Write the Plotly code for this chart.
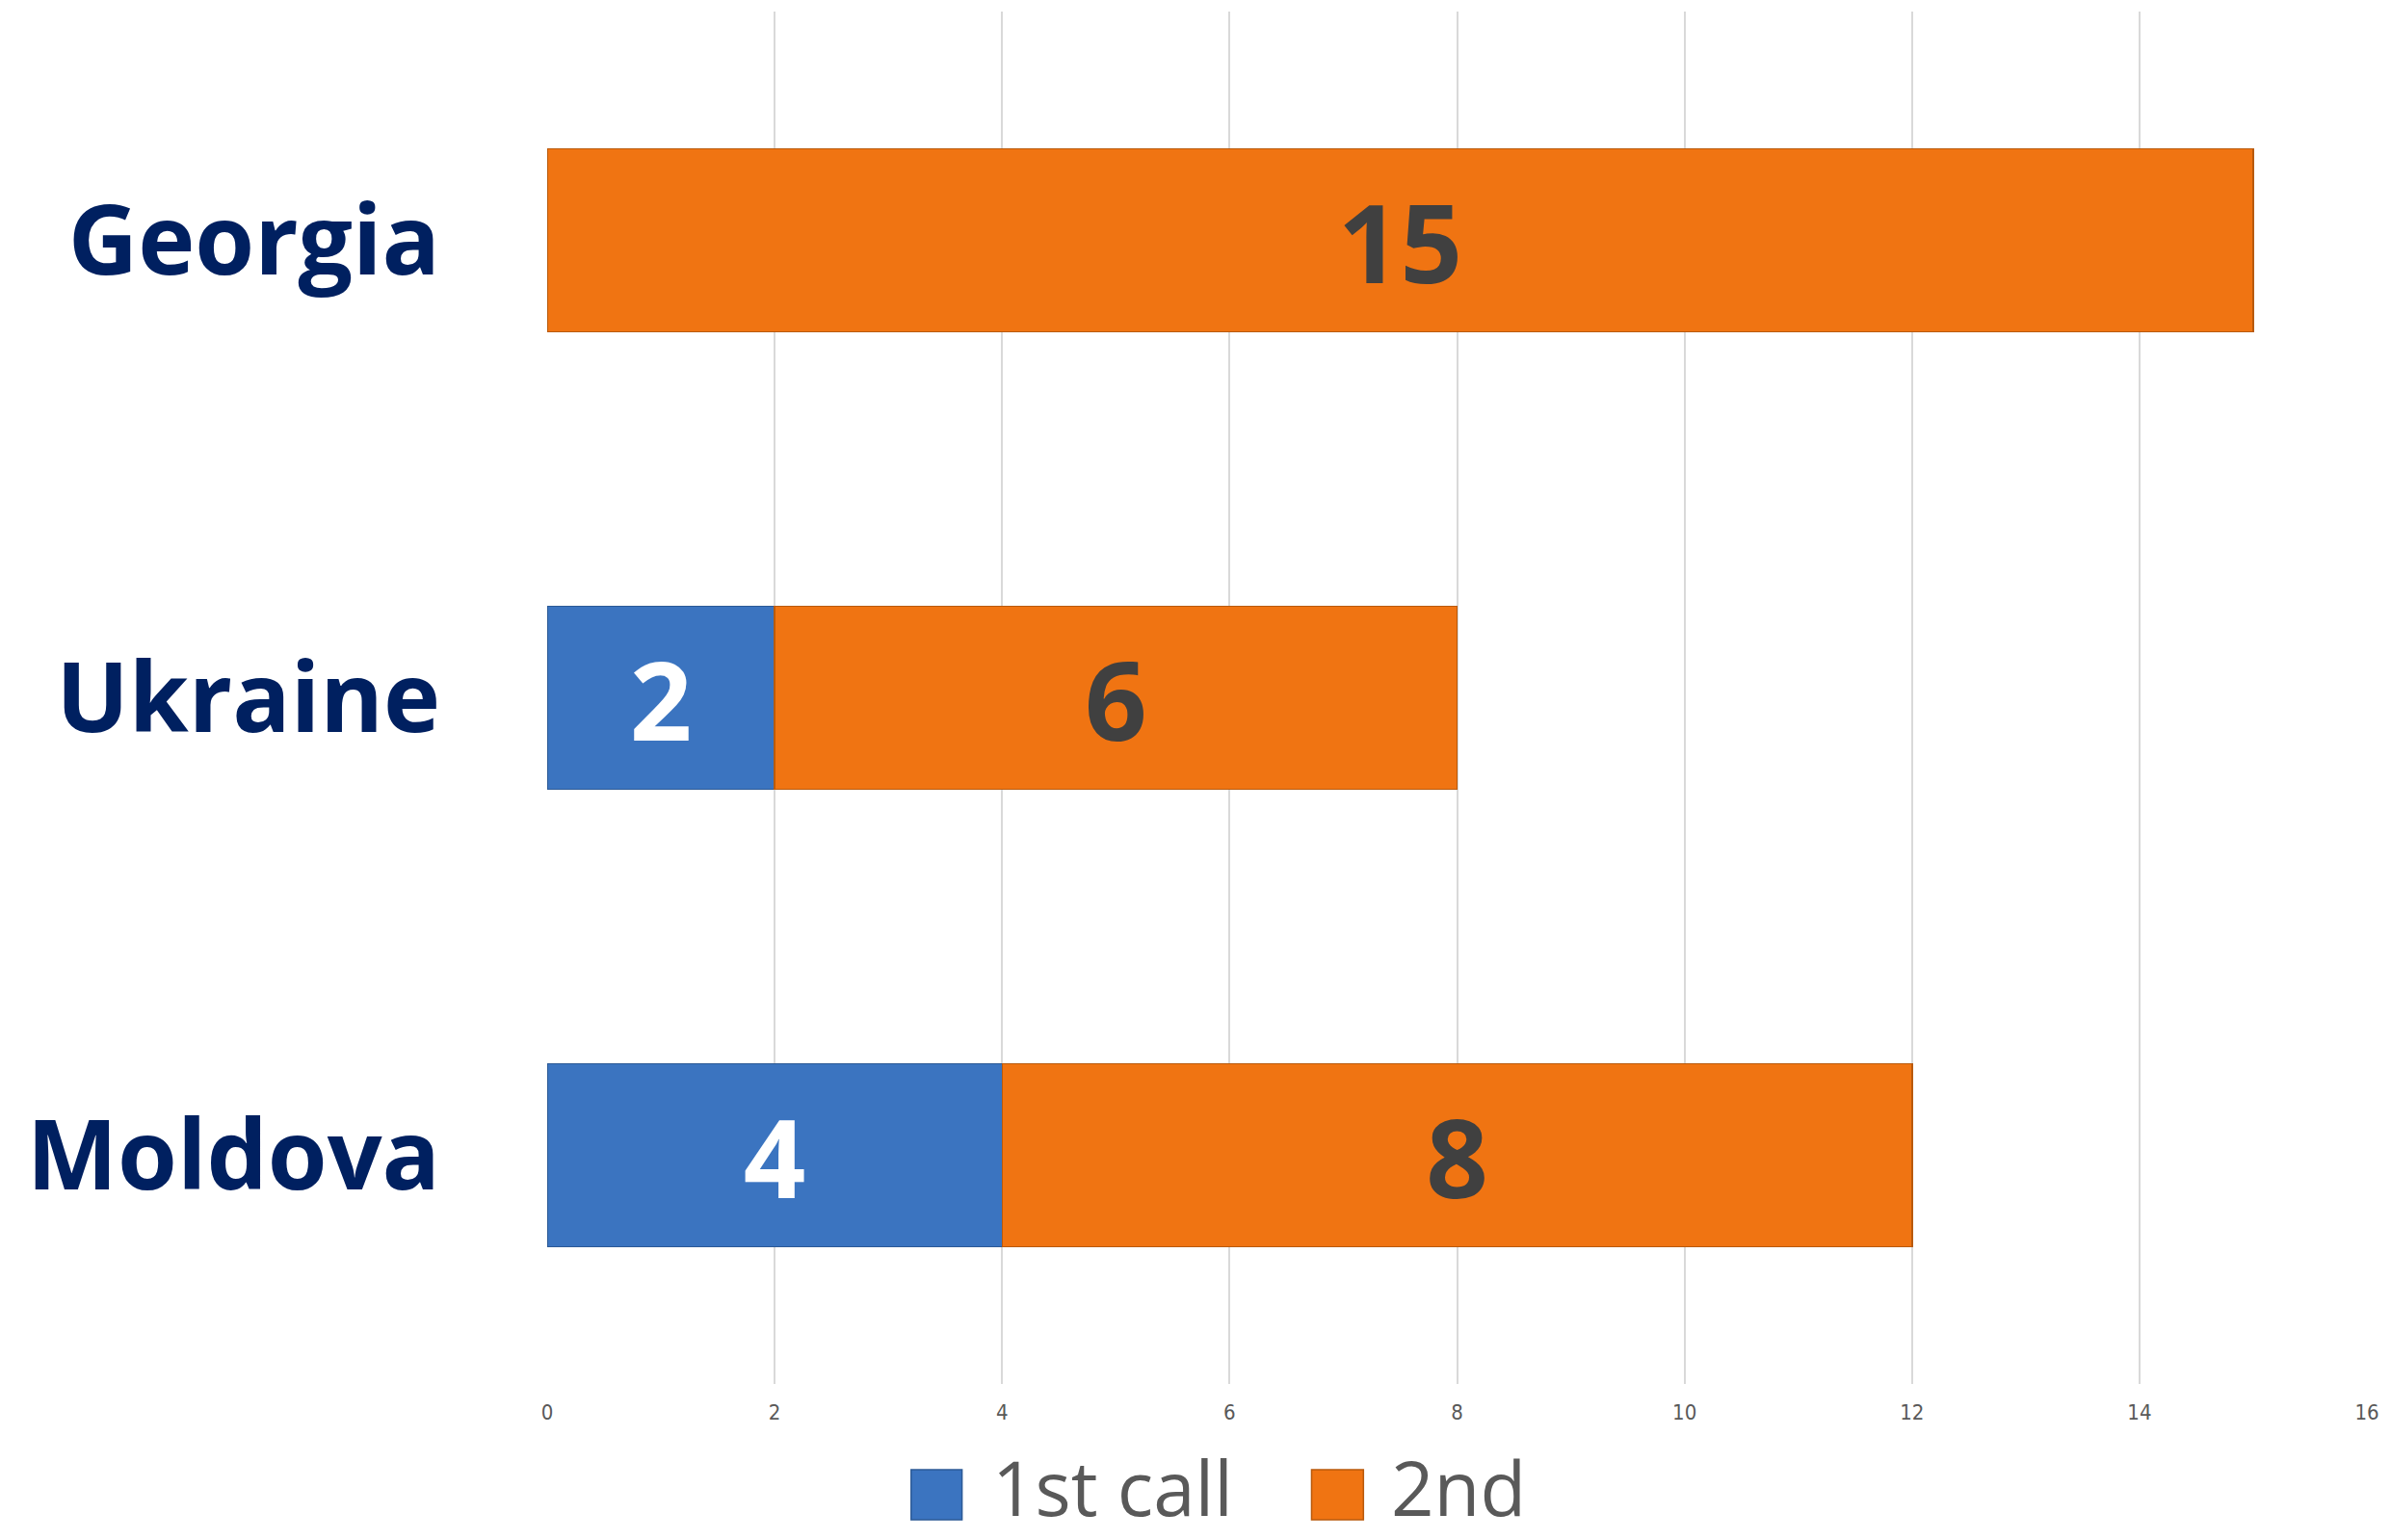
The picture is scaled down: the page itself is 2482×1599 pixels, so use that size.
import plotly.graph_objects as go

categories = ["Georgia", "Ukraine", "Moldova"]
first_call = [None, 2, 4]
second = [15, 6, 8]
series_names = ["1st call", "2nd"]
x_ticks = [0, 2, 4, 6, 8, 10, 12, 14, 16]

W, H = 2482, 1599
L, R, T, B = 568, 19, 12, 162
plot_w = W - L - R
plot_h = H - T - B

BLUE = "#3B74C0"
BLUE_EDGE = "#2C5A96"
ORANGE = "#F07412"
ORANGE_EDGE = "#B95A0C"

fig = go.Figure()
fig.add_trace(go.Bar(
    y=categories, x=first_call, orientation="h", name=series_names[0],
    marker=dict(color=BLUE, line=dict(color=BLUE_EDGE, width=1.5)),
    text=[("" if v is None else str(v)) for v in first_call],
    textposition="inside", insidetextanchor="middle", constraintext="none",
    textfont=dict(family="Open Sans", size=113, color="white", weight="bold"),
    showlegend=False,
))
fig.add_trace(go.Bar(
    y=categories, x=second, orientation="h", name=series_names[1],
    marker=dict(color=ORANGE, line=dict(color=ORANGE_EDGE, width=1.5)),
    text=[str(v) for v in second],
    textposition="inside", insidetextanchor="middle", constraintext="none",
    textfont=dict(family="Open Sans", size=113, color="#404040", weight="bold"),
    showlegend=False,
))

fig.update_layout(
    width=W, height=H,
    margin=dict(l=L, r=R, t=T, b=B, pad=0),
    barmode="stack", bargap=0.6,
    plot_bgcolor="white", paper_bgcolor="white",
    showlegend=False,
    xaxis=dict(
        range=[0, 16], tickvals=x_ticks, ticktext=[str(t) for t in x_ticks],
        showgrid=True, gridcolor="#D9D9D9", gridwidth=1.5,
        zeroline=False, showline=False, ticks="",
        ticklabelstandoff=14,
        tickfont=dict(family="DejaVu Sans Condensed", size=22, color="#595959"),
    ),
    yaxis=dict(
        categoryorder="array", categoryarray=categories[::-1],
        showgrid=False, zeroline=False, showline=False, ticks="",
        ticklabelstandoff=110,
        tickfont=dict(family="Open Sans", size=100, color="#002060", weight="bold"),
    ),
)

def px_x(px):
    return (px - L) / plot_w

def px_y(py):
    return (H - B - py) / plot_h

# custom legend (large squares like the reference)
legend_items = [
    (series_names[0], BLUE, BLUE_EDGE, 947, 1000, 1029),
    (series_names[1], ORANGE, ORANGE_EDGE, 1364, 1418, 1445),
]
for name, col, edge, x0, x1, tx in legend_items:
    fig.add_shape(type="rect", xref="paper", yref="paper",
                  x0=px_x(x0), x1=px_x(x1), y0=px_y(1578), y1=px_y(1526),
                  fillcolor=col, line=dict(color=edge, width=1.5))
    fig.add_annotation(xref="paper", yref="paper", x=px_x(tx), y=px_y(1544),
                       xanchor="left", yanchor="middle", showarrow=False,
                       text=name,
                       font=dict(family="Open Sans", size=78, color="#595959"))

fig.write_html("out.html",
               config={"displayModeBar": False},
               post_script="document.body.style.margin='0';document.body.style.overflow='hidden';")
